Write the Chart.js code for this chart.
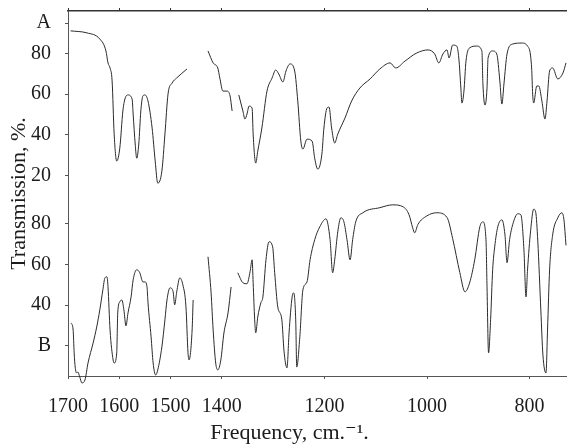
<!DOCTYPE html>
<html>
<head>
<meta charset="utf-8">
<script src="https://cdn.jsdelivr.net/npm/chart.js@4"></script>
<style>
  body { margin: 0; background: #fff; }
  #spec { display: block; }
</style>
</head>
<body>
<canvas id="spec" width="567" height="448"></canvas>
<script>
// frequency (cm-1) and % transmission; null = pen lifted
const freqA = [1695, 1663, 1638, 1626, 1622, 1618, 1614, 1610, 1605, 1599,
  1593, 1589, 1583, 1575, 1573, 1569, 1566, 1562, 1558, 1554,
  1550, 1544, 1536, 1530, 1525, 1517, 1511, 1505, 1497, 1488, 1468,
  1450,
  1427, 1417, 1408, 1404, 1398, 1390, 1384, 1380,
  1374,
  1367, 1359, 1355, 1351, 1347, 1341, 1339, 1334, 1330, 1322,
  1312, 1302, 1295, 1289, 1281, 1275, 1267, 1258, 1252, 1246,
  1242, 1234, 1224, 1219, 1213, 1205, 1201, 1195, 1191, 1186,
  1180, 1174, 1160, 1147, 1131, 1111, 1092, 1072, 1061, 1043,
  1020, 998, 985, 977, 969, 961, 957, 950, 942, 938,
  934, 932, 928, 924, 917, 903, 893, 891, 887, 883,
  881, 872, 864, 858, 854, 850, 844, 833, 815, 804,
  796, 794, 792, 786, 782, 776, 770, 766, 761, 755,
  745, 735, 729];
const transA = [91.2, 90.2, 87.2, 81.3, 75.4, 72.9, 66.5, 40.3, 27.0, 33.4,
  51.7, 57.6, 59.6, 57.6, 50.2, 35.4, 28.4, 35.4, 51.7, 59.1,
  59.6, 56.6, 43.3, 27.0, 16.1, 22.0, 40.3, 60.0, 65.5, 68.0, 72.4,
  null,
  81.3, 75.4, 72.9, 68.0, 61.5, 61.5, 59.1, 51.7,
  null,
  59.6, 51.7, 47.7, 50.2, 54.1, 53.1, 40.3, 26.0, 31.9, 43.3,
  61.5, 68.0, 71.9, 69.9, 66.0, 71.4, 74.9, 71.4, 56.6, 36.8,
  32.9, 37.8, 36.8, 28.4, 23.0, 30.4, 43.3, 53.1, 53.6, 43.3,
  35.9, 40.3, 48.2, 56.6, 63.0, 67.5, 72.4, 75.4, 72.9, 76.3,
  80.3, 81.8, 79.8, 75.4, 79.8, 81.8, 77.8, 84.2, 83.7, 77.8,
  63.0, 55.6, 61.5, 76.3, 82.8, 83.7, 81.3, 65.0, 54.6, 63.0,
  77.8, 81.3, 79.8, 66.5, 55.1, 65.0, 79.8, 84.7, 85.2, 83.7,
  72.9, 60.0, 55.6, 64.0, 64.0, 56.6, 47.7, 56.6, 71.4, 72.9,
  67.5, 70.4, 75.4];

const freqB = [1694, 1690, 1688, 1686, 1683, 1681, 1677, 1673, 1667, 1661,
  1651, 1644, 1638, 1632, 1628, 1624, 1622, 1618, 1612, 1610,
  1605, 1603, 1599, 1595, 1591, 1587, 1583, 1577, 1573, 1566,
  1560, 1554, 1550, 1546, 1544, 1538, 1534, 1529, 1525, 1517,
  1511, 1507, 1501, 1495, 1492, 1488, 1482, 1476, 1470, 1466,
  1464, 1458, 1456,
  1440,
  1427, 1421, 1417, 1412, 1408, 1402, 1396, 1388, 1382,
  1375,
  1369, 1359, 1351, 1345, 1341, 1339, 1336, 1334, 1330, 1324,
  1320, 1314, 1308, 1301, 1297, 1291, 1283, 1279, 1273, 1269,
  1263, 1260, 1256, 1254, 1248, 1242, 1234, 1228, 1219, 1209,
  1197, 1189, 1184, 1180, 1174, 1168, 1162, 1156, 1150, 1145,
  1139, 1125, 1092, 1067, 1047, 1035, 1028, 1024, 1018, 1000,
  981, 961, 950, 936, 926, 917, 907, 897, 891, 885,
  883, 880, 876, 872, 868, 862, 854, 848, 844, 839,
  833, 823, 817, 811, 807, 804, 798, 792, 788, 784,
  778, 774, 768, 765, 761, 755, 745, 737, 733, 729];
const transB = [31.2, 27.7, 16.4, 9.4, 6.5, 7.0, 4.5, 1.6, 3.0, 11.4,
  21.3, 29.2, 37.6, 47.5, 53.4, 53.9, 49.0, 27.7, 12.9, 11.4,
  16.4, 36.1, 41.6, 42.5, 37.6, 29.7, 36.1, 44.0, 52.4, 57.4,
  55.9, 51.4, 51.4, 49.0, 41.1, 24.3, 11.4, 5.5, 8.0, 19.3,
  32.7, 42.5, 48.5, 46.5, 40.1, 46.5, 53.4, 49.9, 39.1, 16.4,
  12.9, 27.7, 42.5,
  null,
  63.8, 46.0, 27.7, 11.4, 8.0, 12.9, 26.2, 36.1, 48.9,
  null,
  55.9, 51.0, 50.5, 56.4, 62.3, 51.0, 32.7, 26.3, 34.1, 41.1,
  44.0, 62.3, 71.2, 68.7, 55.9, 39.1, 32.7, 17.8, 9.0, 26.2,
  44.0, 46.0, 32.7, 9.4, 24.3, 47.5, 51.4, 62.3, 72.2, 78.6,
  82.5, 72.2, 55.9, 62.3, 76.1, 83.0, 81.0, 72.2, 62.3, 72.2,
  81.0, 85.5, 88.0, 89.4, 88.5, 84.5, 78.1, 75.6, 79.6, 84.0,
  85.5, 83.2, 72.8, 56.0, 46.5, 50.9, 62.3, 78.6, 81.0, 72.2,
  49.0, 16.4, 32.7, 57.4, 68.7, 78.6, 82.0, 74.6, 60.9, 72.2,
  79.6, 85.0, 84.5, 67.2, 44.0, 57.3, 76.6, 87.3, 85.7, 71.5,
  37.1, 15.4, 6.5, 27.7, 57.3, 74.6, 83.0, 85.5, 82.0, 69.4];

const xTicks = [1700, 1600, 1500, 1400, 1200, 1000, 800];
const ticksA = [20, 40, 60, 80];
const ticksB = [40, 60, 80];
const traceNames = ['A', 'B'];
const traceNameAt = [95, 20];   // % level where the letter sits on each scale

// the two spectra share one panel, A stacked above B
const OFFSET_A = 79;
const OFFSET_B = -5;

const serif = "'Liberation Serif', 'DejaVu Serif', serif";
const ink = '#1c1c1c';

function toPoints(freq, trans, offset) {
  return freq.map((f, i) => ({ x: f, y: trans[i] === null ? null : trans[i] + offset }));
}

const yTicks = [
  { value: traceNameAt[1] + OFFSET_B, label: traceNames[1] },
  ...ticksB.map(t => ({ value: t + OFFSET_B, label: String(t) })),
  ...ticksA.map(t => ({ value: t + OFFSET_A, label: String(t) })),
  { value: traceNameAt[0] + OFFSET_A, label: traceNames[0] }
];

const ctx = document.getElementById('spec').getContext('2d');

const lineStyle = {
  borderColor: '#2b2b2b',
  borderWidth: 1,
  pointRadius: 0,
  fill: false,
  spanGaps: false,
  clip: false,
  cubicInterpolationMode: 'monotone'
};

// keep tick labels from pushing the plot area around
function noPad(s) {
  s.paddingTop = 0;
  s.paddingBottom = 0;
  s.paddingLeft = 0;
  s.paddingRight = 0;
}

const myChart = new Chart(ctx, {
  type: 'line',
  data: {
    datasets: [
      { label: 'A', data: toPoints(freqA, transA, OFFSET_A), ...lineStyle },
      { label: 'B', data: toPoints(freqB, transB, OFFSET_B), ...lineStyle }
    ]
  },
  options: {
    responsive: false,
    animation: false,
    devicePixelRatio: 1,
    layout: { padding: { left: 0, right: 1, top: 0, bottom: 0 } },
    plugins: { legend: { display: false }, tooltip: { enabled: false } },
    scales: {
      x: {
        type: 'linear',
        position: 'bottom',
        min: 729,
        max: 1700,
        reverse: true,
        afterBuildTicks: s => { s.ticks = xTicks.map(v => ({ value: v })); },
        afterFit: s => { s.height = 72; noPad(s); },
        ticks: {
          color: ink,
          font: { family: serif, size: 20 },
          padding: 16,
          maxRotation: 0,
          autoSkip: false,
          callback: v => String(v)
        },
        grid: { drawOnChartArea: false, tickLength: 3, color: '#555' },
        border: { display: true, color: '#555', width: 1, dash: [3, 2] },
        title: {
          display: true,
          text: 'Frequency, cm.\u207b\u00b9.\u00a0\u00a0\u00a0\u00a0\u00a0\u00a0\u00a0\u00a0\u00a0\u00a0',
          color: ink,
          font: { family: serif, size: 22 },
          padding: { top: 0, bottom: 2 }
        }
      },
      xTop: {
        type: 'linear',
        position: 'top',
        min: 729,
        max: 1700,
        reverse: true,
        afterBuildTicks: s => { s.ticks = xTicks.map(v => ({ value: v })); },
        afterFit: s => { s.height = 11; noPad(s); },
        ticks: { display: false },
        grid: { drawOnChartArea: false, tickLength: 3, color: '#333' },
        border: { display: true, color: '#333', width: 1.5, dash: [7, 2] }
      },
      y: {
        type: 'linear',
        position: 'left',
        min: 0,
        max: 180,
        afterBuildTicks: s => { s.ticks = yTicks.map(t => ({ value: t.value })); },
        afterFit: s => { s.width = 68; noPad(s); },
        ticks: {
          color: ink,
          font: { family: serif, size: 20 },
          padding: 14,
          callback: (v, i) => yTicks[i].label
        },
        grid: { drawOnChartArea: false, tickLength: 3, color: '#555' },
        border: { display: true, color: '#555', width: 1, dash: [2, 2] },
        title: {
          display: true,
          text: 'Transmission, %.',
          color: ink,
          font: { family: serif, size: 22 },
          padding: { top: 6, bottom: 0 }
        }
      }
    }
  }
});
</script>
</body>
</html>
